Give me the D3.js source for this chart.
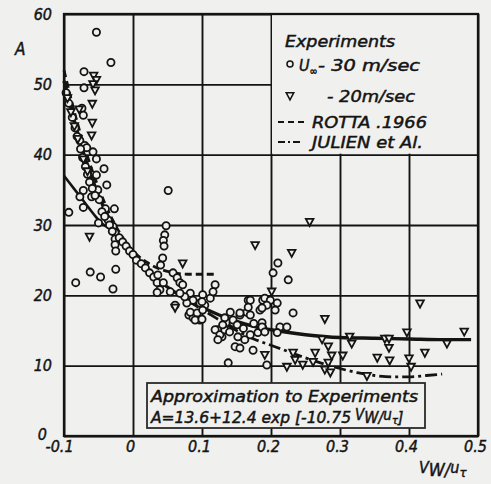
<!DOCTYPE html>
<html>
<head>
<meta charset="utf-8">
<script src="https://cdn.jsdelivr.net/npm/d3@7"></script>
<style>
  html, body { margin: 0; padding: 0; background: #f0f0ee; }
  svg { display: block; }
  svg text { font-style: italic; }
</style>
</head>
<body>
<div id="chart"></div>
<script>
// Mixing-length constant A vs. blowing parameter (scanned figure)

const xTicks = [-0.1, 0, 0.1, 0.2, 0.3, 0.4, 0.5];
const xTickLabels = ['-0.1', '0', '0.1', '0.2', '0.3', '0.4', '0.5'];
const yTicks = [0, 10, 20, 30, 40, 50, 60];
const yTickLabels = ['0', '10', '20', '30', '40', '50', '60'];

// approximation A = 13.6 + 12.4 exp(-10.75 Vw/u_tau)
const approxCurve = [
  [-0.1, 50.5], [-0.09, 46.7], [-0.08, 43.0], [-0.07, 39.7], [-0.06, 36.8],
  [-0.05, 34.2], [-0.04, 32.0], [-0.03, 30.1], [-0.02, 28.4], [-0.01, 27.0],
  [0, 25.8], [0.02, 23.6], [0.04, 21.9], [0.06, 20.5], [0.08, 19.3],
  [0.1, 18.3], [0.125, 17.2], [0.15, 16.3], [0.175, 15.6], [0.2, 15.1],
  [0.25, 14.4], [0.3, 14.0], [0.35, 13.9], [0.4, 13.8], [0.45, 13.7], [0.49, 13.7]
];
// lower solid branch on the left
const lowerBranch = [
  [-0.1, 37.0], [-0.085, 35.1], [-0.07, 33.2], [-0.055, 31.3],
  [-0.045, 30.2], [-0.035, 29.6], [-0.025, 29.4]
];
const rottaCurve = [
  [-0.1, 52.0], [-0.09, 48.0], [-0.08, 44.3], [-0.07, 41.0], [-0.06, 38.0],
  [-0.05, 35.3], [-0.04, 32.9], [-0.03, 30.8], [-0.02, 29.0], [-0.01, 27.5],
  [0, 26.3], [0.02, 24.7], [0.04, 23.7], [0.06, 23.2], [0.08, 23.0],
  [0.1, 23.0], [0.122, 23.0]
];
const julienCurve = [
  [0.08, 19.2], [0.1, 18.0], [0.12, 16.8], [0.15, 15.0], [0.175, 13.8],
  [0.2, 12.9], [0.225, 12.0], [0.25, 11.1], [0.275, 10.3], [0.3, 9.6],
  [0.325, 9.0], [0.35, 8.6], [0.375, 8.4], [0.4, 8.4], [0.425, 8.6], [0.448, 8.8]
];

// U = 30 m/sec (circles)
const circles30 = [
  [-0.053, 57.4], [-0.032, 53.1], [-0.071, 51.8], [-0.071, 49.5], [-0.074, 46.6],
  [-0.072, 45.6], [-0.077, 42.0], [-0.070, 41.3], [-0.067, 41.0], [-0.058, 40.4],
  [-0.053, 39.4], [-0.042, 38.0], [-0.053, 37.1], [-0.038, 35.7], [-0.051, 35.0],
  [-0.072, 34.9], [-0.077, 34.0], [-0.060, 34.0], [-0.049, 33.6], [-0.072, 32.5],
  [-0.040, 32.3], [-0.027, 32.3], [-0.093, 31.8], [-0.036, 30.7], [-0.050, 30.3],
  [-0.029, 29.8], [-0.026, 28.9], [-0.026, 28.0], [-0.026, 27.2], [-0.025, 26.3],
  [-0.083, 21.8], [-0.062, 23.3], [-0.047, 22.6], [-0.025, 23.7], [-0.029, 20.9],
  [-0.097, 48.8], [-0.093, 47.3], [-0.088, 45.3], [-0.084, 43.8], [-0.081, 42.6],
  [-0.076, 40.8], [-0.073, 39.6], [-0.069, 38.3], [-0.066, 37.2], [-0.063, 36.1],
  [-0.059, 35.2], [-0.055, 34.2], [-0.045, 31.9], [-0.041, 31.2], [-0.034, 30.0],
  [-0.030, 29.1], [-0.020, 28.2], [-0.015, 27.6], [-0.010, 27.0], [-0.005, 26.3],
  [0.000, 25.8], [0.005, 25.0], [0.012, 24.5], [0.018, 23.9], [0.024, 23.2], [0.030, 22.6],
  [0.051, 34.9], [0.048, 29.9], [0.046, 28.6], [0.044, 27.8], [0.045, 27.0],
  [0.043, 25.3], [0.040, 24.3], [0.036, 22.9], [0.035, 21.8], [0.039, 20.8],
  [0.035, 20.4], [0.044, 21.8], [0.054, 20.5], [0.058, 23.2], [0.064, 22.5],
  [0.068, 21.8], [0.061, 18.6], [0.081, 17.2], [0.087, 16.8], [0.097, 16.5],
  [0.097, 18.9], [0.104, 18.6], [0.112, 19.6], [0.119, 21.5], [0.116, 20.5],
  [0.101, 20.1], [0.083, 20.3], [0.072, 21.5], [0.087, 19.3], [0.100, 19.1],
  [0.078, 18.9], [0.083, 17.6], [0.093, 17.5], [0.101, 17.9], [0.090, 16.5],
  [0.100, 16.6], [0.075, 19.8], [0.068, 20.3],
  [0.123, 15.1], [0.129, 14.1], [0.145, 16.1], [0.148, 12.7], [0.155, 17.2],
  [0.165, 17.6], [0.167, 19.3], [0.138, 10.4], [0.170, 19.3], [0.188, 19.3],
  [0.167, 18.3], [0.184, 17.9], [0.170, 17.2], [0.187, 16.1], [0.155, 17.5],
  [0.141, 17.6], [0.145, 16.5], [0.151, 15.8], [0.133, 16.8], [0.119, 15.1],
  [0.126, 14.4], [0.123, 13.7], [0.133, 15.1], [0.152, 14.1], [0.162, 13.7],
  [0.170, 14.4], [0.181, 14.7], [0.188, 15.4], [0.155, 12.5], [0.174, 12.2],
  [0.130, 15.8], [0.140, 14.8], [0.160, 15.3], [0.175, 16.0],
  [0.210, 24.6], [0.203, 23.2], [0.225, 22.2], [0.191, 19.6], [0.199, 19.3],
  [0.209, 18.9], [0.194, 18.6], [0.206, 17.9], [0.187, 18.2], [0.232, 17.5],
  [0.187, 15.5], [0.213, 15.5], [0.223, 15.5], [0.209, 14.7], [0.191, 14.8], [0.194, 10.1]
];

// U = 20 m/sec (triangles)
const triangles20 = [
  [-0.057, 51.2], [-0.053, 50.6], [-0.058, 50.0], [-0.055, 49.1], [-0.059, 47.2],
  [-0.059, 44.5], [-0.060, 42.7], [-0.063, 28.3], [-0.078, 46.4],
  [-0.095, 48.0], [-0.090, 46.0], [-0.085, 44.0], [-0.080, 42.2], [-0.072, 39.3], [-0.066, 37.6],
  [0.072, 24.5], [0.061, 18.2], [0.177, 27.1], [0.230, 26.0], [0.256, 30.4],
  [0.201, 20.5], [0.278, 16.6], [0.274, 13.7], [0.283, 12.7], [0.314, 14.1],
  [0.317, 13.1], [0.191, 11.5], [0.232, 11.8], [0.235, 10.8], [0.264, 11.8],
  [0.288, 11.4], [0.304, 11.4], [0.223, 9.8], [0.246, 10.1], [0.261, 10.5],
  [0.283, 10.4], [0.278, 9.4], [0.286, 9.0], [0.416, 18.8], [0.397, 14.7],
  [0.480, 14.8], [0.365, 13.8], [0.371, 13.8], [0.455, 13.1], [0.371, 12.5],
  [0.423, 11.8], [0.354, 11.1], [0.372, 10.7], [0.400, 11.0], [0.403, 9.8], [0.339, 8.5]
];

(function() {
  const width = 491;
  const height = 484;
  const ink = '#141414';
  const paper = '#f0f0ee';
  const font = '"DejaVu Sans Condensed", "DejaVu Sans", sans-serif';

  const x = d3.scaleLinear().domain([-0.1, 0.5]).range([64, 478]);
  const y = d3.scaleLinear().domain([0, 60]).range([436, 14]);

  const svg = d3.select('#chart').append('svg')
    .attr('width', width)
    .attr('height', height)
    .style('background', paper)
    .style('font-family', font);

  // heavier type, like the printed lettering
  function inked(sel) {
    return sel.attr('fill', ink).attr('stroke', ink).attr('stroke-width', 0.45);
  }

  // Grid via axes
  const gx = svg.append('g')
    .attr('transform', `translate(0,${y(0)})`)
    .call(d3.axisBottom(x).tickValues(xTicks).tickSize(-(y(0) - y(60)))
      .tickFormat((d, i) => xTickLabels[i]));
  gx.select('.domain').remove();
  gx.selectAll('.tick line').attr('stroke', ink).attr('stroke-width', 1.9);
  gx.selectAll('.tick text')
    .attr('font-size', 16).attr('font-family', font)
    .attr('y', 16).attr('dy', 0)
    .attr('dx', (d, i) => i === 0 ? -5 : -3)
    .call(inked);

  const gy = svg.append('g')
    .attr('transform', `translate(${x(-0.1)},0)`)
    .call(d3.axisLeft(y).tickValues(yTicks).tickSize(-(x(0.5) - x(-0.1)))
      .tickFormat((d, i) => yTickLabels[i]));
  gy.select('.domain').remove();
  gy.selectAll('.tick line').attr('stroke', ink).attr('stroke-width', 1.9);
  gy.selectAll('.tick text')
    .attr('font-size', 16).attr('font-family', font)
    .attr('x', d => d === 0 ? -17 : -12)
    .attr('dy', d => d === 0 ? '0.2em' : '0.32em')
    .call(inked);

  // Legend panel covers the upper-right grid cells
  svg.append('rect')
    .attr('x', x(0.2) + 1).attr('y', y(60) + 1)
    .attr('width', x(0.5) - x(0.2) - 2).attr('height', y(40) - y(60) - 2)
    .attr('fill', paper);

  // Curves
  const line = d3.line().x(d => x(d[0])).y(d => y(d[1])).curve(d3.curveMonotoneX);

  svg.append('path').datum(rottaCurve)
    .attr('d', line).attr('fill', 'none').attr('stroke', ink)
    .attr('stroke-width', 2.8).attr('stroke-dasharray', '7,4');

  svg.append('path').datum(julienCurve)
    .attr('d', line).attr('fill', 'none').attr('stroke', ink)
    .attr('stroke-width', 2.8).attr('stroke-dasharray', '12,4,3,4');

  svg.append('path').datum(lowerBranch)
    .attr('d', line).attr('fill', 'none').attr('stroke', ink)
    .attr('stroke-width', 2.6);

  svg.append('path').datum(approxCurve)
    .attr('d', line).attr('fill', 'none').attr('stroke', ink)
    .attr('stroke-width', 3.4);

  // Markers
  const triPath = 'M-3.8,-3.3L3.8,-3.3L0,3.8Z';

  svg.append('g').selectAll('circle')
    .data(circles30).join('circle')
    .attr('cx', d => x(d[0])).attr('cy', d => y(d[1]))
    .attr('r', 3.6)
    .attr('fill', paper).attr('stroke', ink).attr('stroke-width', 1.8);

  svg.append('g').selectAll('path')
    .data(triangles20).join('path')
    .attr('transform', d => `translate(${x(d[0])},${y(d[1])})`)
    .attr('d', triPath)
    .attr('fill', paper).attr('stroke', ink).attr('stroke-width', 1.8);

  // Frame
  svg.append('rect')
    .attr('x', x(-0.1)).attr('y', y(60))
    .attr('width', x(0.5) - x(-0.1)).attr('height', y(0) - y(60))
    .attr('fill', 'none').attr('stroke', ink).attr('stroke-width', 2.3);

  // Legend content
  const leg = svg.append('g').attr('font-size', 16);
  leg.append('text').attr('x', 285).attr('y', 47)
    .attr('textLength', 110).attr('lengthAdjust', 'spacingAndGlyphs')
    .text('Experiments').call(inked);

  leg.append('circle').attr('cx', 290).attr('cy', 64).attr('r', 3)
    .attr('fill', paper).attr('stroke', ink).attr('stroke-width', 1.5);
  const u = leg.append('text').attr('x', 299).attr('y', 71).call(inked);
  u.append('tspan').text('U');
  u.append('tspan').attr('font-size', 11).attr('dy', 4).text('∞');
  leg.append('text').attr('x', 318).attr('y', 71)
    .attr('textLength', 102).attr('lengthAdjust', 'spacingAndGlyphs')
    .text('- 30 m/sec').call(inked);

  leg.append('path').attr('d', triPath)
    .attr('transform', 'translate(290,96)')
    .attr('fill', paper).attr('stroke', ink).attr('stroke-width', 1.5);
  leg.append('text').attr('x', 327).attr('y', 102)
    .attr('textLength', 88).attr('lengthAdjust', 'spacingAndGlyphs')
    .text('- 20m/sec').call(inked);

  leg.append('line').attr('x1', 278).attr('x2', 304).attr('y1', 122).attr('y2', 122)
    .attr('stroke', ink).attr('stroke-width', 2).attr('stroke-dasharray', '6,4');
  leg.append('text').attr('x', 312).attr('y', 128)
    .attr('textLength', 115).attr('lengthAdjust', 'spacingAndGlyphs')
    .text('ROTTA .1966').call(inked);

  leg.append('line').attr('x1', 278).attr('x2', 302).attr('y1', 142).attr('y2', 142)
    .attr('stroke', ink).attr('stroke-width', 2).attr('stroke-dasharray', '7,3,2,3');
  leg.append('text').attr('x', 312).attr('y', 148)
    .attr('textLength', 111).attr('lengthAdjust', 'spacingAndGlyphs')
    .text('JULIEN et Al.').call(inked);

  // Approximation box
  svg.append('rect')
    .attr('x', 147).attr('y', 383).attr('width', 278).attr('height', 45)
    .attr('fill', paper).attr('stroke', '#2a2a2a').attr('stroke-width', 1.8);
  const box = svg.append('g').attr('font-size', 16);
  box.append('text').attr('x', 151).attr('y', 402)
    .attr('textLength', 267).attr('lengthAdjust', 'spacingAndGlyphs')
    .text('Approximation to Experiments').call(inked);
  box.append('text').attr('x', 151).attr('y', 423)
    .attr('textLength', 200).attr('lengthAdjust', 'spacingAndGlyphs')
    .text('A=13.6+12.4 exp [-10.75').call(inked);
  const f = box.append('text').attr('x', 355).attr('y', 423).call(inked);
  f.append('tspan').attr('font-size', 15).attr('dy', -3).text('V');
  f.append('tspan').attr('dy', 3).text('W/');
  f.append('tspan').attr('font-size', 15).attr('dy', -3).text('u');
  f.append('tspan').attr('font-size', 11).attr('dy', 4).text('τ');
  f.append('tspan').attr('dy', -1).text(']');

  // Axis titles
  svg.append('text').attr('x', 15).attr('y', 55)
    .attr('font-size', 17).text('A').call(inked);
  const xt = svg.append('text').attr('x', 419).attr('y', 476)
    .attr('font-size', 18).call(inked);
  xt.append('tspan').attr('font-size', 16).attr('dy', -3).text('V');
  xt.append('tspan').attr('dy', 3).text('W/');
  xt.append('tspan').attr('font-size', 16).attr('dy', -3).text('u');
  xt.append('tspan').attr('font-size', 13).attr('dy', 4).text('τ');
})();
</script>
</body>
</html>
